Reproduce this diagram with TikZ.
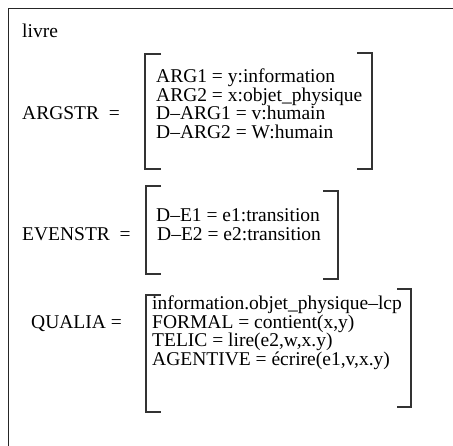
\documentclass[tikz,border=0pt]{standalone}
\usepackage{fontspec}
\setmainfont{Liberation Serif}
\begin{document}
\begin{tikzpicture}[x=1pt,y=-1pt,
  txt/.style={inner sep=0pt,anchor=base west,font=\fontsize{19.5}{19.5}\selectfont},
  frameline/.style={line width=1.4pt,draw=black!85},
  brk/.style={line width=1.2pt,draw=black!80}]
\useasboundingbox (0,0) rectangle (453,446);
% outer frame (open to the right and bottom)
\draw[frameline] (453,8.5) -- (8.5,8.5) -- (8.5,446);
% heading
\node[txt] (livre) at (22,38) {livre};
% argument structure
\node[txt] (argstr) at (22,120) {ARGSTR\ \ =};
\node[txt] (a1) at (156,83) {ARG1 = y:information};
\node[txt] (a2) at (156,101.5) {ARG2 = x:objet\_physique};
\node[txt] (a3) at (156,120) {D--ARG1 = v:humain};
\node[txt] (a4) at (156,138.5) {D--ARG2 = W:humain};
\draw[brk] (161,54) -- (145,54) -- (145,169) -- (161,169);
\draw[brk] (357,53) -- (372,53) -- (372,169) -- (357,169);
% event structure
\node[txt] (evenstr) at (22,240.5) {EVENSTR\ \ =};
\node[txt] (e1) at (156,222) {D--E1 = e1:transition};
\node[txt] (e2) at (157,240.5) {D--E2 = e2:transition};
\draw[brk] (161,186) -- (146,186) -- (146,274) -- (161,274);
\draw[brk] (323,191) -- (338,191) -- (338,279) -- (323,279);
% qualia structure
\node[txt] (qualia) at (31,328.5) {QUALIA =};
\node[txt] (q0) at (152,310) {information.objet\_physique--lcp};
\node[txt] (q1) at (152,328.5) {FORMAL = contient(x,y)};
\node[txt] (q2) at (152,347) {TELIC = lire(e2,w,x.y)};
\node[txt] (q3) at (152,365.5) {AGENTIVE = écrire(e1,v,x.y)};
\draw[brk] (161,295) -- (146,295) -- (146,412) -- (161,412);
\draw[brk] (397,289) -- (411,289) -- (411,407) -- (397,407);
\end{tikzpicture}
\end{document}
